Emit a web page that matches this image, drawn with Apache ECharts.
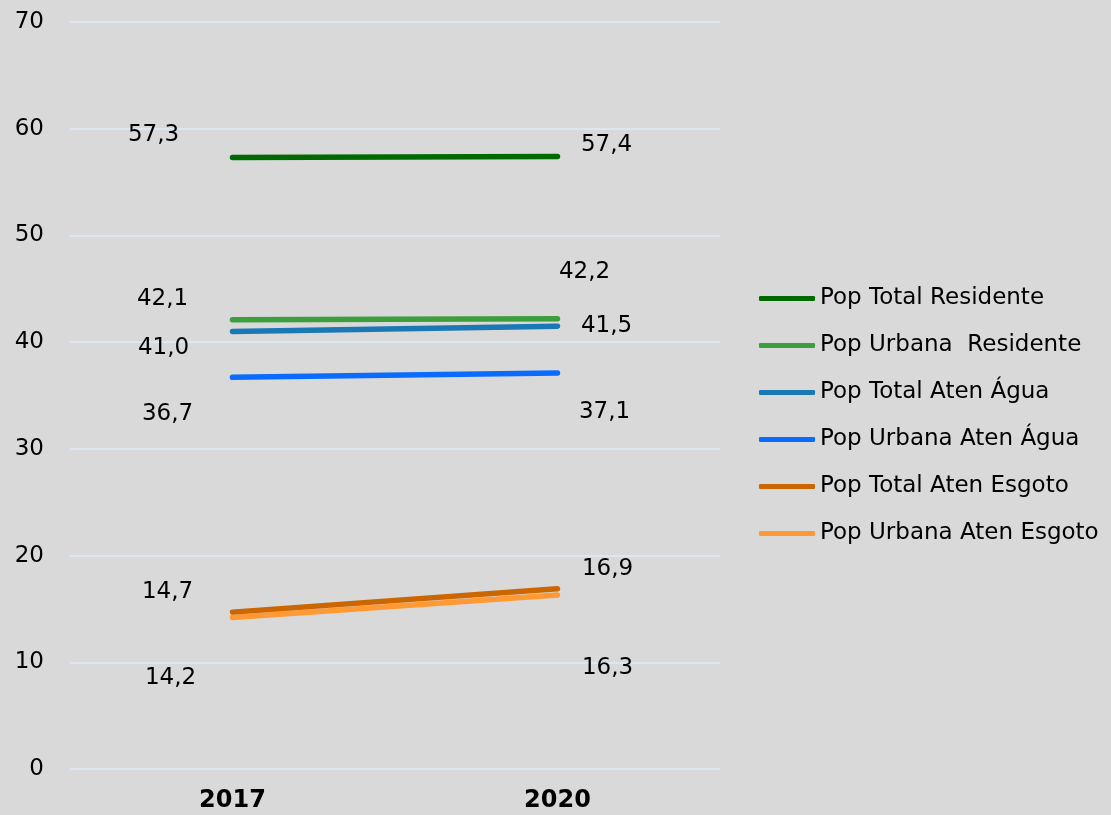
<!DOCTYPE html>
<html>
<head>
<meta charset="utf-8">
<script src="https://cdn.jsdelivr.net/npm/echarts@6/dist/echarts.min.js"></script>
<style>
  html, body { margin: 0; padding: 0; background: #d9d9d9; }
  #main { width: 1111px; height: 815px; }
</style>
</head>
<body>
<div id="main"></div>
<script>
// dados do gráfico
const years = ['2017', '2020']
const seriesNames = [
  'Pop Total Residente',
  'Pop Urbana  Residente',
  'Pop Total Aten Água',
  'Pop Urbana Aten Água',
  'Pop Total Aten Esgoto',
  'Pop Urbana Aten Esgoto',
]
const totalResidente = [57.3, 57.4]
const urbanaResidente = [42.1, 42.2]
const totalAgua = [41.0, 41.5]
const urbanaAgua = [36.7, 37.1]
const totalEsgoto = [14.7, 16.9]
const urbanaEsgoto = [14.2, 16.3]
const yTicks = [0, 10, 20, 30, 40, 50, 60, 70]

const seriesValues = [totalResidente, urbanaResidente, totalAgua, urbanaAgua, totalEsgoto, urbanaEsgoto]
const colors = ['#006a00', '#3c9e3c', '#1a78b4', '#0a6cff', '#cc6600', '#ff9933']

// deslocamento dos rótulos (px) para cada ponto
const labelOffsets = [
  [[-79, -22], [49, -11]],
  [[-70, -21], [27, -47]],
  [[-69, 17], [49, 0]],
  [[-65, 37], [47, 39]],
  [[-65, -20], [50, -20]],
  [[-62, 61], [50, 73]],
]

const fontFamily = '"DejaVu Sans", Verdana, sans-serif'

const chart = echarts.init(document.getElementById('main'))

const series = seriesValues.map((vals, i) => ({
  name: seriesNames[i],
  type: 'line',
  symbol: 'circle',
  symbolSize: 1,
  showSymbol: true,
  color: colors[i],
  lineStyle: { width: 5.5, cap: 'round', color: colors[i] },
  itemStyle: { color: colors[i] },
  emphasis: { disabled: true },
  z: 10 - i,
  data: vals.map((v, j) => ({
    value: v,
    label: {
      show: true,
      position: 'inside',
      offset: labelOffsets[i][j],
      formatter: (p) => p.value.toFixed(1).replace('.', ','),
      color: '#000',
      fontSize: 23,
      fontFamily: fontFamily,
    },
  })),
}))

const option = {
  backgroundColor: '#d9d9d9',
  animation: false,
  grid: { left: 70, right: 391, top: 22, bottom: 46 },
  legend: {
    orient: 'vertical',
    left: 754,
    top: 282,
    itemWidth: 56,
    itemHeight: 5,
    itemGap: 24,
    icon: 'roundRect',
    data: seriesNames,
    textStyle: { color: '#000', fontSize: 23, fontFamily: fontFamily },
  },
  xAxis: {
    type: 'category',
    data: years,
    axisLine: { show: false },
    axisTick: { show: false },
    axisLabel: {
      color: '#000',
      fontSize: 24,
      fontWeight: 'bold',
      fontFamily: fontFamily,
      margin: 20,
    },
  },
  yAxis: {
    type: 'value',
    min: yTicks[0],
    max: yTicks[yTicks.length - 1],
    interval: 10,
    axisLine: { show: false },
    axisTick: { show: false },
    axisLabel: { color: '#000', fontSize: 23, fontFamily: fontFamily, margin: 26 },
    splitLine: { lineStyle: { color: '#dde7f2', width: 2 } },
  },
  series: series,
}

chart.setOption(option)
</script>
</body>
</html>
